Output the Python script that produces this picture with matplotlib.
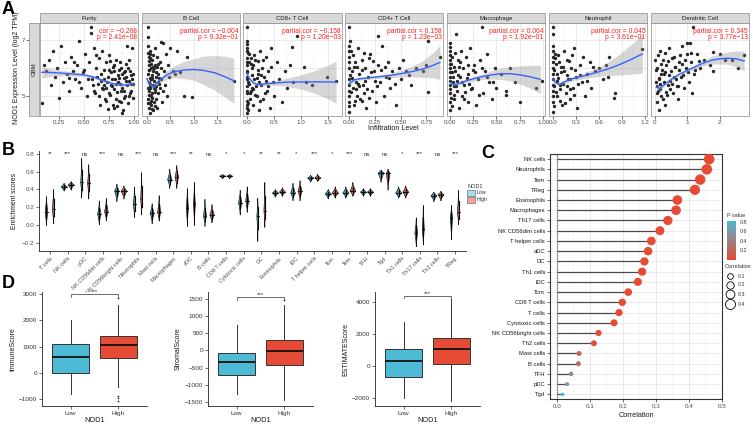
import numpy as np
import matplotlib
matplotlib.use("Agg")
import matplotlib.pyplot as plt
from matplotlib.patches import Rectangle, Polygon
from matplotlib.colors import LinearSegmentedColormap

plt.rcParams['font.family'] = ['Liberation Sans', 'DejaVu Sans']

# ------------------------------------------------------------------ data A
A_names = ["Purity", "B Cell", "CD8+ T Cell", "CD4+ T Cell", "Macrophage", "Neutrophil", "Dendritic Cell"]
A_cor = ["cor = \u22120.268", "partial.cor = \u22120.004", "partial.cor = \u22120.158", "partial.cor = 0.158",
         "partial.cor = 0.064", "partial.cor = 0.045", "partial.cor = 0.345"]
A_p = ["p = 2.41e\u221208", "p = 9.32e\u221201", "p = 1.20e\u221203", "p = 1.23e\u221203",
       "p = 1.92e\u221201", "p = 3.61e\u221201", "p = 3.77e\u221213"]

purity_x = [0.08,0.10,0.12,0.15,0.17,0.19,0.21,0.23,0.25,0.27,0.29,0.31,0.33,0.35,0.37,0.39,0.41,0.43,0.45,0.47,
            0.49,0.51,0.53,0.55,0.57,0.57,0.58,0.60,0.61,0.62,0.64,0.65,0.66,0.67,0.68,0.69,0.70,0.71,0.72,0.73,
            0.74,0.75,0.76,0.77,0.78,0.79,0.80,0.81,0.82,0.83,0.84,0.85,0.86,0.87,0.88,0.89,0.90,0.91,0.92,0.93,
            0.94,0.95,0.96,0.97,0.98,0.99,0.985,0.93,0.88,0.74,
            0.72,0.75,0.78,0.8,0.82,0.84,0.86,0.88,0.9,0.92,0.94,0.96,0.98,0.7,0.76,0.8,0.85,0.9,0.95,0.99,
            0.83,0.87,0.91,0.97,0.79,0.68,0.63,0.59,0.54]
purity_y = [4.75,6.1,5.9,6.3,5.4,6.6,5.7,6.0,4.95,6.8,5.5,6.2,5.8,5.2,6.4,5.9,5.6,6.1,6.95,5.3,
            5.85,6.5,5.0,6.2,7.45,7.25,5.6,6.7,5.1,6.0,5.45,6.35,4.7,5.8,6.6,5.25,5.95,4.9,6.2,5.5,
            5.7,6.45,5.05,5.85,5.35,6.05,4.6,5.6,6.3,5.15,5.75,4.85,5.45,6.0,5.3,4.5,5.65,5.0,6.15,5.4,
            4.75,5.55,5.9,5.2,6.7,5.45,4.95,6.8,4.4,4.55,
            5.3,5.1,5.6,5.9,4.9,5.5,6.2,5.8,5.2,5.7,6.0,5.1,5.6,5.6,6.25,5.25,5.95,4.95,6.3,5.8,
            4.65,4.8,5.9,5.45,4.7,5.3,5.7,5.4,5.6]
purity_x2 = [0.6,0.65,0.7,0.75,0.8,0.85,0.9,0.95,0.62,0.67,0.72,0.77,0.82,0.87,0.92,0.97,0.45,0.5,0.35,0.4]
purity_y2 = [5.2,5.0,5.4,5.95,6.1,5.65,5.85,5.0,6.45,5.55,4.85,5.4,5.45,5.2,5.55,5.75,5.5,5.95,5.65,6.2]

bcell_x = [0.02,0.02,0.03,0.04,0.05,0.03,0.04,0.05,0.03,0.04,0.06, 0.08,0.09,0.10,0.08,0.10,0.09,
           0.12,0.13,0.14,0.12,0.15,0.13, 0.17,0.18,0.19,0.17,0.20, 0.22,0.24,0.23,0.25,0.22,
           0.28,0.30,0.29,0.32, 0.35,0.37,0.38,0.40,0.42,0.45,0.47,
           0.50,0.55,0.60,0.65,0.70,0.80,0.85,0.96,1.85,0.30,
           0.06,0.07,0.11,0.16,0.21,0.26,0.05,0.09,0.14,0.18]
bcell_y = [7.45,7.1,6.8,6.4,6.1,5.8,5.5,5.2,4.9,4.6,4.4, 6.6,6.0,5.6,5.3,5.0,4.7,
           6.3,5.9,5.4,5.1,4.8,4.5, 6.7,6.1,5.7,5.25,4.9, 6.4,5.8,5.5,5.1,4.6,
           6.2,5.6,5.3,4.8, 6.9,5.9,5.4,6.5,5.0,6.1,5.7,
           6.7,5.9,5.8,6.6,5.85,5.0,6.4,4.96,5.55,6.93,
           5.65,5.35,5.75,5.55,6.05,5.45,6.25,4.85,6.05,5.15]
bcell_x2 = [0.03,0.04,0.05,0.06,0.07,0.08,0.1,0.11,0.12,0.13,0.15,0.16,0.18,0.19,0.2,0.23,0.27,0.31,0.34,
            0.02,0.03,0.05,0.07,0.09,0.11]
bcell_y2 = [6.55,5.95,5.05,6.35,4.75,5.45,6.15,4.95,5.65,6.45,5.3,6.0,4.65,5.85,5.35,6.15,5.65,6.0,5.2,
            5.3,4.75,5.95,6.5,5.6,4.55]

cd8_x = [0,0,0,0,0,0,0,0,0,0,0,0,
         0.05,0.08,0.10,0.12,0.14,0.16,0.18,0.20,0.22,0.24,0.26,0.28,0.30,0.32,0.35,0.37,0.40,0.42,0.45,0.48,
         0.50,0.55,0.60,0.65,0.70,0.75,0.80,0.85,0.93,1.05,1.10,1.20,1.48,1.65,0.83,
         0.02,0.04,0.06,0.09,0.13,0.17,0.21,0.03,0.07,0.11]
cd8_y = [7.45,6.85,6.6,6.35,6.1,5.85,5.6,5.35,5.1,4.85,4.6,4.4,
         6.5,5.2,6.0,4.7,5.6,6.3,5.0,5.8,4.5,6.6,5.4,6.0,4.9,5.7,6.4,5.2,5.9,4.6,6.7,5.5,
         5.0,6.2,5.6,4.8,5.9,5.3,6.1,5.5,7.15,6.05,5.5,5.4,5.7,5.55,6.75,
         5.5,6.2,5.1,5.75,6.45,5.35,5.95,4.75,6.15,5.25]
cd8_x2 = [0,0,0,0,0,0,0.01,0.02,0.03,0.05,0.06,0.08,0.1,0.12,0.15,0.18,0.2,0.23,0.25,0.27,0.3,0.33,0.36,0.4,0.44]
cd8_y2 = [6.95,6.7,6.2,5.7,5.2,4.7,5.9,4.5,6.55,5.45,4.9,6.35,5.3,6.1,5.05,5.65,6.25,5.5,4.85,5.75,
          6.3,5.1,5.55,5.35,6.05]

cd4_x = [0,0,0,0,0,0,0,0,
         0.02,0.03,0.04,0.05,0.06,0.07,0.08,0.09,0.10,0.11,0.12,0.13,0.14,0.15,0.16,0.18,0.20,0.22,0.24,0.26,
         0.28,0.30,0.32,0.34,0.36,0.38,0.40,0.42,0.45,0.48,0.50,0.55,0.60,0.65,0.72,0.75,0.76,0.76,0.88,0.28,
         0.01,0.03,0.05,0.07,0.09,0.12,0.15,0.19]
cd4_y = [7.45,6.8,6.4,6.0,5.6,5.2,4.8,4.45,
         6.6,5.9,5.3,4.7,6.2,5.5,5.0,6.7,5.8,4.9,6.3,5.4,5.1,6.0,4.6,5.7,6.5,5.2,5.9,4.8,
         6.1,5.5,6.8,5.0,5.7,6.2,5.3,5.9,4.7,6.0,5.6,5.9,5.4,6.0,5.9,6.1,6.95,5.15,6.4,7.15,
         6.95,5.65,6.05,5.25,5.45,4.85,5.55,6.35]
cd4_x2 = [0,0,0,0,0,0.01,0.02,0.04,0.06,0.08,0.1,0.12,0.14,0.17,0.19,0.21,0.23,0.25,0.27,0.31,
          0.35,0.39,0.44,0.52,0.58]
cd4_y2 = [6.6,6.2,5.4,5.0,4.65,5.75,5.15,6.45,4.85,6.05,5.35,5.95,6.55,5.25,4.95,5.85,6.25,5.55,5.35,5.95,
          6.05,5.65,5.45,6.3,5.75]

macro_x = [0,0,0,0,0,0,0,0,0,
           0.02,0.03,0.04,0.07,0.06,0.08,0.09,0.10,0.11,0.12,0.13,0.14,0.15,0.17,0.19,0.20,0.22,0.24,0.26,0.28,
           0.30,0.32,0.34,0.36,0.38,0.40,0.42,0.45,0.48,0.50,0.55,0.60,0.65,0.70,0.75,0.92,0.99,0.60,
           0.01,0.02,0.05,0.08,0.1,0.16,0.21,0.25]
macro_y = [6.9,6.6,6.3,6.0,5.7,5.4,5.1,4.8,4.5,
           6.4,5.5,4.9,7.2,5.9,5.2,6.3,4.6,5.7,6.6,5.0,6.0,5.4,6.4,4.8,5.8,6.7,5.3,6.1,4.7,
           5.6,6.3,7.45,5.1,5.9,6.5,5.5,4.9,6.0,5.3,5.8,5.2,6.0,5.5,4.8,5.3,5.55,5.05,
           6.15,5.85,5.35,5.55,6.05,5.15,5.45,5.95]
macro_x2 = [0,0,0,0,0,0,0.01,0.02,0.03,0.04,0.05,0.06,0.07,0.09,0.11,0.13,0.15,0.18,0.2,0.23,
            0.27,0.31,0.35,0.4,0.46]
macro_y2 = [6.75,6.45,6.15,5.85,5.55,5.25,4.95,4.65,5.7,6.05,5.05,6.55,5.35,5.75,6.2,5.5,4.9,5.65,6.1,5.25,
            5.85,5.05,6.0,5.7,5.5]

neut_x = [0,0,0,0,0,0,0,0,0,
          0.03,0.05,0.06,0.08,0.10,0.12,0.14,0.15,0.17,0.19,0.20,0.22,0.24,0.26,0.28,0.30,0.32,0.35,0.38,0.40,
          0.42,0.45,0.48,0.50,0.55,0.60,0.65,0.70,0.72,0.74,0.81,0.80,1.17,
          0.02,0.04,0.07,0.09,0.11,0.13,0.18,0.23]
neut_y = [7.45,7.2,6.8,6.4,6.0,5.6,5.2,4.8,4.45,
          6.5,5.8,5.0,6.2,5.4,4.7,6.6,5.9,5.1,6.3,5.6,4.9,6.0,5.3,6.7,5.7,4.6,6.1,5.5,6.4,
          5.0,5.8,6.2,5.3,5.9,6.0,5.6,6.1,5.7,6.39,5.1,4.95,6.66,
          5.35,6.15,5.65,4.85,6.05,5.45,5.75,5.25]
neut_x2 = [0,0,0,0,0,0.01,0.02,0.03,0.04,0.05,0.07,0.09,0.11,0.13,0.16,0.18,0.21,0.23,0.25,0.27,
           0.29,0.33,0.36,0.44,0.52]
neut_y2 = [6.6,6.2,5.8,5.4,5.0,4.65,5.95,6.35,5.15,5.55,6.45,5.25,5.85,6.05,4.75,5.35,6.25,5.6,6.45,5.05,
           5.95,5.45,5.75,5.55,6.05]

dc_x = [0.0,0.02,0.05,0.08,0.10,0.12,0.15,0.18,0.20,0.25,0.28,0.30,0.35,0.40,0.45,0.50,0.55,0.60,0.65,0.70,
        0.75,0.80,0.85,0.90,0.95,1.00,1.05,1.10,1.15,1.20,1.30,1.08,1.40,1.17,1.50,1.70,1.80,2.00,1.78,2.15,
        2.37,2.74,2.55,0.98,
        0.05,0.12,0.22,0.33,0.42,0.52,0.62,0.72,0.82,0.3,0.48]
dc_y = [6.3,5.5,4.8,6.0,5.2,4.5,6.6,5.8,5.0,6.3,5.5,4.7,6.1,5.4,6.7,5.9,5.1,6.4,5.6,4.9,
        6.2,5.7,6.8,5.3,6.0,6.5,5.5,6.2,5.1,5.8,6.5,6.88,6.0,7.46,6.3,6.1,5.9,6.5,6.57,6.3,
        6.29,6.45,6.0,6.89,
        5.35,5.65,5.95,5.15,5.75,5.45,6.05,5.35,6.15,5.85,5.25]
dc_x2 = [0.03,0.07,0.1,0.13,0.17,0.2,0.24,0.27,0.32,0.37,0.41,0.46,0.53,0.58,0.63,0.68,0.74,0.78,0.88,0.93,
         1.03,1.12,1.25,1.35,0.15]
dc_y2 = [5.95,5.1,6.45,5.6,5.25,6.15,4.9,5.8,6.55,5.05,6.25,5.55,6.35,5.7,6.05,5.35,5.95,6.45,5.75,6.3,
         5.85,6.55,5.95,6.25,5.45]

# loess fits (x, fitted y, half width of CI)
purity_fx = [0.08,0.2,0.35,0.5,0.6,0.7,0.8,0.9,1.0]
purity_fy = [5.85,5.84,5.8,5.76,5.68,5.55,5.44,5.4,5.45]
purity_fs = [0.2,0.12,0.08,0.06,0.05,0.05,0.04,0.05,0.07]
bcell_fx = [0.0,0.06,0.13,0.2,0.3,0.45,0.6,0.8,1.0,1.2,1.45,1.65,1.85]
bcell_fy = [5.62,5.45,5.33,5.45,5.6,5.78,5.88,5.93,5.95,5.92,5.83,5.7,5.55]
bcell_fs = [0.12,0.06,0.07,0.07,0.1,0.15,0.22,0.3,0.38,0.5,0.62,0.72,0.8]
cd8_fx = [0,0.05,0.12,0.2,0.35,0.5,0.75,1.0,1.25,1.5,1.65]
cd8_fy = [5.82,5.62,5.48,5.42,5.44,5.47,5.5,5.51,5.51,5.51,5.5]
cd8_fs = [0.08,0.06,0.05,0.05,0.06,0.08,0.15,0.25,0.4,0.6,0.75]
cd4_fx = [0,0.05,0.1,0.2,0.3,0.4,0.5,0.6,0.7,0.8,0.88]
cd4_fy = [5.45,5.58,5.62,5.66,5.7,5.74,5.8,5.87,5.95,6.08,6.2]
cd4_fs = [0.1,0.06,0.05,0.05,0.06,0.08,0.12,0.18,0.28,0.42,0.6]
macro_fx = [0,0.03,0.07,0.15,0.25,0.35,0.45,0.55,0.65,0.75,0.85,0.97]
macro_fy = [5.5,5.43,5.42,5.52,5.62,5.7,5.76,5.8,5.8,5.76,5.7,5.6]
macro_fs = [0.08,0.05,0.05,0.06,0.08,0.1,0.15,0.2,0.25,0.32,0.4,0.5]
neut_fx = [0,0.04,0.08,0.14,0.25,0.4,0.55,0.7,0.85,1.0,1.17]
neut_fy = [5.62,5.48,5.42,5.5,5.62,5.72,5.83,5.95,6.1,6.28,6.5]
neut_fs = [0.1,0.06,0.05,0.06,0.07,0.1,0.14,0.22,0.35,0.5,0.68]
dc_fx = [0.05,0.15,0.3,0.5,0.75,1.0,1.25,1.5,1.75,2.0,2.25,2.5,2.75]
dc_fy = [5.32,5.28,5.42,5.6,5.78,5.92,6.05,6.18,6.28,6.33,6.35,6.33,6.25]
dc_fs = [0.12,0.08,0.06,0.05,0.05,0.06,0.08,0.1,0.14,0.18,0.22,0.28,0.35]

# ------------------------------------------------------------------ data B
B_cells = ["T cells", "NK cells", "pDC", "NK CD56dim cells", "NK CD56bright cells", "Neutrophils", "Mast cells",
           "Macrophages", "aDC", "B cells", "CD8 T cells", "Cytotoxic cells", "DC", "Eosinophils", "iDC",
           "T helper cells", "Tcm", "Tem", "TFH", "Tgd", "Th1 cells", "Th17 cells", "Th2 cells", "TReg"]
B_sig = ["**", "***", "ns", "***", "ns", "***", "ns", "***", "**", "ns", "*", "*", "**", "**", "*", "***",
         "*", "***", "ns", "ns", "*", "***", "ns", "***"]
low_min = [-0.01,0.38,0.30,0.00,0.26,0.08,0.01,0.41,-0.02,-0.02,0.52,0.11,-0.19,0.31,0.27,0.48,0.29,0.30,0.32,0.48,0.30,-0.25,0.26,-0.17]
low_med = [0.14,0.43,0.48,0.12,0.38,0.23,0.13,0.51,0.19,0.10,0.55,0.25,0.10,0.36,0.36,0.53,0.35,0.36,0.37,0.585,0.36,-0.09,0.33,0.08]
low_max = [0.32,0.47,0.75,0.27,0.46,0.43,0.24,0.63,0.41,0.29,0.57,0.39,0.30,0.40,0.47,0.56,0.40,0.43,0.41,0.62,0.43,0.08,0.37,0.22]
high_min = [0.01,0.39,0.29,0.04,0.29,0.11,0.04,0.41,-0.01,0.02,0.52,0.14,-0.03,0.32,0.27,0.49,0.30,0.32,0.32,0.39,0.30,-0.23,0.27,0.00]
high_med = [0.18,0.45,0.47,0.15,0.38,0.29,0.14,0.54,0.23,0.11,0.55,0.27,0.16,0.37,0.38,0.53,0.36,0.38,0.37,0.58,0.37,-0.05,0.34,0.14]
high_max = [0.40,0.49,0.68,0.30,0.44,0.59,0.33,0.67,0.48,0.23,0.57,0.43,0.48,0.42,0.50,0.57,0.43,0.48,0.41,0.63,0.44,0.22,0.38,0.39]

# ------------------------------------------------------------------ data C
C_cells = ["NK cells", "Neutrophils", "Tem", "TReg", "Eosinophils", "Macrophages", "Th17 cells", "NK CD56dim cells",
           "T helper cells", "aDC", "DC", "Th1 cells", "iDC", "Tcm", "CD8 T cells", "T cells", "Cytotoxic cells",
           "NK CD56bright cells", "Th2 cells", "Mast cells", "B cells", "TFH", "pDC", "Tgd"]
C_cor = [0.461,0.454,0.434,0.418,0.365,0.361,0.336,0.312,0.286,0.276,0.265,0.258,0.245,0.216,0.198,0.188,
         0.173,0.126,0.112,0.067,0.065,0.043,0.031,0.017]
C_p = [0,0,0,0,0,0,0,0,0,0,0,0,0,0,0,0,0,0.005,0.01,0.19,0.2,0.45,0.62,0.82]

# ------------------------------------------------------------------ data D
D_ylabels = ["ImmuneScore", "StromalScore", "ESTIMATEScore"]
D_groups = ["Low", "High"]
# [whislo, q1, median, q3, whishi]
immune_low = [-830, 0, 600, 1100, 2030]
immune_high = [-560, 580, 1060, 1400, 2580]
immune_high_out = [2870, -880, -960, -1080]
stromal_low = [-1280, -700, -340, -70, 740]
stromal_high = [-1450, -430, -20, 300, 1320]
stromal_high_out = [1480]
estimate_low = [-2040, -690, 310, 1020, 2750]
estimate_high = [-2190, 100, 1050, 1710, 4150]
estimate_high_out = []

# ------------------------------------------------------------------ figure
W, H = 753, 425
fig = plt.figure(figsize=(W / 100, H / 100), dpi=100)


def ax_px(x0, y0, x1, y1, **kw):
    return fig.add_axes([x0 / W, 1 - y1 / H, (x1 - x0) / W, (y1 - y0) / H], **kw)


def ftext(x, y, s, **kw):
    return fig.text(x / W, 1 - y / H, s, **kw)


def frect(x0, y0, x1, y1, **kw):
    r = Rectangle((x0 / W, 1 - y1 / H), (x1 - x0) / W, (y1 - y0) / H, transform=fig.transFigure, **kw)
    fig.add_artist(r)


# ------------------------------------------------------------------ panel A
A_bounds = [(40, 138), (142, 240), (243, 342), (345, 443), (447, 545), (549, 647), (651, 749)]
A_xlims = [(0.06, 1.04), (-0.1, 1.98), (-0.07, 1.76), (-0.04, 0.91), (-0.03, 1.02), (-0.05, 1.23), (-0.12, 2.9)]
A_xticks = [[0.25, 0.5, 0.75, 1.0], [0, 0.5, 1.0, 1.5], [0, 0.5, 1.0, 1.5], [0, 0.25, 0.5, 0.75],
            [0, 0.25, 0.5, 0.75, 1.0], [0, 0.3, 0.6, 0.9, 1.2], [0, 1, 2]]
A_xtl = [["0.25", "0.50", "0.75", "1.00"], ["0.0", "0.5", "1.0", "1.5"], ["0.0", "0.5", "1.0", "1.5"],
         ["0.00", "0.25", "0.50", "0.75"], ["0.00", "0.25", "0.50", "0.75", "1.00"],
         ["0.0", "0.3", "0.6", "0.9", "1.2"], ["0", "1", "2"]]
scat = [(purity_x + purity_x2, purity_y + purity_y2), (bcell_x + bcell_x2, bcell_y + bcell_y2),
        (cd8_x + cd8_x2, cd8_y + cd8_y2), (cd4_x + cd4_x2, cd4_y + cd4_y2),
        (macro_x + macro_x2, macro_y + macro_y2), (neut_x + neut_x2, neut_y + neut_y2),
        (dc_x + dc_x2, dc_y + dc_y2)]
fits = [(purity_fx, purity_fy, purity_fs), (bcell_fx, bcell_fy, bcell_fs), (cd8_fx, cd8_fy, cd8_fs),
        (cd4_fx, cd4_fy, cd4_fs), (macro_fx, macro_fy, macro_fs), (neut_fx, neut_fy, neut_fs),
        (dc_fx, dc_fy, dc_fs)]
AY = (4.3, 7.6)
for i in range(7):
    x0, x1 = A_bounds[i]
    ax = ax_px(x0, 23, x1, 116)
    ax.set_xlim(*A_xlims[i])
    ax.set_ylim(*AY)
    xt = A_xticks[i]
    mids = [(a + b) / 2 for a, b in zip(xt[:-1], xt[1:])]
    step = xt[1] - xt[0]
    extra = [xt[0] - step / 2, xt[-1] + step / 2]
    for m in mids + extra:
        ax.axvline(m, color="#F2F2F2", lw=0.35, zorder=0)
    for m in xt:
        ax.axvline(m, color="#E5E5E5", lw=0.55, zorder=0)
    for m in [4.5, 5.5, 6.5, 7.5]:
        ax.axhline(m, color="#F2F2F2", lw=0.35, zorder=0)
    for m in [5, 6, 7]:
        ax.axhline(m, color="#E5E5E5", lw=0.55, zorder=0)
    sx, sy = scat[i]
    n = min(len(sx), len(sy))
    ax.scatter(sx[:n], sy[:n], s=6, c="#262626", lw=0, zorder=2)
    fx, fy, fs = (np.array(v, dtype=float) for v in fits[i])
    ax.fill_between(fx, fy - fs, fy + fs, color="#999999", alpha=0.4, lw=0, zorder=3)
    ax.plot(fx, fy, color="#3366FF", lw=1.0, zorder=4)
    ax.set_xticks(xt)
    ax.set_xticklabels(A_xtl[i])
    ax.set_yticks([])
    ax.tick_params(axis='x', length=2, width=0.5, labelsize=4.5, pad=1, colors="#333333", labelcolor="#4d4d4d")
    for s in ax.spines.values():
        s.set_color("#8c8c8c")
        s.set_linewidth(0.5)
    ax.text(0.985, 0.95, A_cor[i] + "\n" + A_p[i], transform=ax.transAxes, ha='right', va='top',
            color="#FF2020", fontsize=4.9, linespacing=0.95, zorder=6)
    frect(x0, 13, x1, 23, facecolor="#D9D9D9", edgecolor="#8c8c8c", lw=0.5)
    ftext((x0 + x1) / 2, 18.3, A_names[i], ha='center', va='center', fontsize=4.3, color="#1a1a1a")

sax = ax_px(29, 23, 39, 116)
sax.set_facecolor("#D9D9D9")
sax.set_xlim(0, 1)
sax.set_ylim(*AY)
sax.set_xticks([])
sax.set_yticks([5, 7])
sax.set_yticklabels(["5", "7"])
sax.tick_params(axis='y', length=2, width=0.5, labelsize=4.5, pad=1, colors="#333333", labelcolor="#4d4d4d")
for s in sax.spines.values():
    s.set_color("#8c8c8c")
    s.set_linewidth(0.5)
sax.text(0.5, 0.5, "GBM", rotation=90, ha='center', va='center', fontsize=4.3, color="#1a1a1a",
         transform=sax.transAxes)
ftext(17, 68, "NOD1 Expression Level (log2 TPM)", rotation=90, ha='center', va='center', fontsize=5.0, color="#1a1a1a")
ftext(393, 128, "Infiltration Level", ha='center', va='center', fontsize=5.2, color="#1a1a1a")
ftext(2, 9, "A", fontsize=13, fontweight='bold', va='center', ha='left')

# ------------------------------------------------------------------ panel B
LOWC, HIGHC = "#4a97a8", "#b8675f"


def violin(ax, xc, lo, med, hi, color):
    rng = max(hi - lo, 0.02)
    hw = min(0.17, 0.026 / rng)
    t = np.linspace(-1, 1, 61)
    ys = np.where(t < 0, med + t * (med - lo), med + t * (hi - med))
    w = hw * (1 - np.abs(t)) ** 1.6
    xs = np.concatenate([xc - w, (xc + w)[::-1]])
    yy = np.concatenate([ys, ys[::-1]])
    ax.add_patch(Polygon(np.column_stack([xs, yy]), closed=True, facecolor=color, edgecolor="#111111",
                         lw=0.45, zorder=2))
    ax.plot([xc, xc], [med - 0.5 * (med - lo), med + 0.5 * (hi - med)], color="#000000", lw=0.8, zorder=3)
    ax.plot([xc - hw * 0.85, xc + hw * 0.85], [med, med], color="#000000", lw=0.6, zorder=3)


axB = ax_px(39, 151, 466, 251)
nB = len(B_cells)
posB = np.arange(1, nB + 1)
for i in range(nB):
    violin(axB, posB[i] - 0.2, low_min[i], low_med[i], low_max[i], LOWC)
    violin(axB, posB[i] + 0.2, high_min[i], high_med[i], high_max[i], HIGHC)
    axB.text(posB[i], 0.8, B_sig[i], ha='center', va='center', fontsize=4.3, color="#333333")
axB.set_xlim(0.375, 24.625)
axB.set_ylim(-0.296, 0.834)
axB.set_xticks(posB)
axB.set_xticklabels(B_cells, rotation=45, ha='right', rotation_mode='anchor')
axB.set_yticks([-0.2, 0.0, 0.2, 0.4, 0.6, 0.8])
axB.tick_params(length=2, width=0.5, labelsize=4.0, pad=1.5, colors="#333333", labelcolor="#4d4d4d")
axB.tick_params(axis='y', labelsize=4.5)
axB.spines['top'].set_visible(False)
axB.spines['right'].set_visible(False)
for s in ['left', 'bottom']:
    axB.spines[s].set_linewidth(0.6)
    axB.spines[s].set_color("#222222")
axB.set_ylabel("Enrichment scores", fontsize=4.9, labelpad=3, color="#1a1a1a")
ftext(2, 150, "B", fontsize=13, fontweight='bold', va='center', ha='left')
ftext(467, 186, "NOD1", fontsize=4.0, color="#333333", va='center')
frect(467, 190, 475, 196, facecolor="#a8dce9", edgecolor="#555555", lw=0.4)
frect(467, 197, 475, 203, facecolor="#f3a59d", edgecolor="#555555", lw=0.4)
ftext(477, 193, "Low", fontsize=3.8, color="#333333", va='center')
ftext(477, 200, "High", fontsize=3.8, color="#333333", va='center')

# ------------------------------------------------------------------ panel C
cmapC = LinearSegmentedColormap.from_list("pv", ["#E64B35", "#4DBBD5"])
PMAX = 0.82
axC = ax_px(550, 154, 722, 399)
nC = len(C_cells)
yC = np.arange(nC, 0, -1)
axC.set_xlim(-0.021, 0.5)
axC.set_ylim(0.55, 24.5)
for m in [0.05, 0.15, 0.25, 0.35, 0.45]:
    axC.axvline(m, color="#F2F2F2", lw=0.4, zorder=0)
for m in [0.1, 0.2, 0.3, 0.4, 0.5]:
    axC.axvline(m, color="#E5E5E5", lw=0.6, zorder=0)
for yy in yC:
    axC.axhline(yy, color="#E8E8E8", lw=0.6, zorder=0)
axC.axvline(0, color="#9a9a9a", lw=0.9, zorder=1)
axC.hlines(yC, 0, C_cor, color="#4a4a4a", lw=0.9, zorder=2)
axC.scatter(C_cor, yC, s=5 + 118 * np.array(C_cor), c=cmapC(np.array(C_p) / PMAX), lw=0, zorder=3)
axC.set_yticks(yC)
axC.set_yticklabels(C_cells)
axC.set_xticks([0, 0.1, 0.2, 0.3, 0.4, 0.5])
axC.set_xticklabels(["0.0", "0.1", "0.2", "0.3", "0.4", "0.5"])
axC.tick_params(axis='y', length=2, width=0.5, labelsize=4.2, pad=1.5, colors="#333333", labelcolor="#1a1a1a")
axC.tick_params(axis='x', length=2, width=0.5, labelsize=4.5, pad=1.5, colors="#333333", labelcolor="#4d4d4d")
for s in axC.spines.values():
    s.set_color("#333333")
    s.set_linewidth(0.8)
axC.set_xlabel("Correlation", fontsize=5.3, labelpad=2, color="#1a1a1a")
ftext(481, 153, "C", fontsize=13, fontweight='bold', va='center', ha='left')

cbax = ax_px(727, 221, 736, 260)
grad = np.linspace(0, PMAX, 100).reshape(-1, 1)
cbax.imshow(grad, aspect='auto', cmap=cmapC, origin='lower', extent=[0, 1, 0, PMAX], vmin=0, vmax=PMAX)
cbax.set_xticks([])
cbax.yaxis.tick_right()
cbax.set_yticks([0.2, 0.4, 0.6, 0.8])
cbax.set_yticklabels(["0.2", "0.4", "0.6", "0.8"])
cbax.tick_params(axis='y', length=1.5, width=0.4, labelsize=3.8, pad=1, colors="white", labelcolor="#333333")
for s in cbax.spines.values():
    s.set_visible(False)
ftext(727, 216, "P value", fontsize=4.0, color="#333333", va='center')
ftext(725, 267, "Correlation", fontsize=3.9, color="#333333", va='center')
lax = ax_px(724, 271, 753, 310)
lax.set_xlim(0, 29)
lax.set_ylim(39, 0)
lax.axis('off')
leg_vals = [0.1, 0.2, 0.3, 0.4]
leg_y = [5, 14, 23, 33]
for v, yy in zip(leg_vals, leg_y):
    lax.scatter([6], [yy], s=5 + 118 * v, facecolor='white', edgecolor='black', lw=0.6)
    lax.text(14, yy, "%.1f" % v, fontsize=3.8, va='center', ha='left', color="#333333")

# ------------------------------------------------------------------ panel D
D_axes = [(42, 147), (208, 313), (375, 480)]
D_ylims = [(-1270, 3080), (-1616, 1703), (-2520, 4600)]
D_yticks = [[-1000, 0, 1000, 2000, 3000], [-1500, -1000, -500, 0, 500, 1000, 1500], [-2000, 0, 2000, 4000]]
D_stats = [(immune_low, immune_high, immune_high_out), (stromal_low, stromal_high, stromal_high_out),
           (estimate_low, estimate_high, estimate_high_out)]
D_brk = [(2880, 3000), (1480, 1560), (4200, 4350)]
for k in range(3):
    x0, x1 = D_axes[k]
    ax = ax_px(x0, 292, x1, 406)
    lo, hi, out = D_stats[k]
    st = []
    for s_, fl in ((lo, []), (hi, out)):
        st.append(dict(whislo=s_[0], q1=s_[1], med=s_[2], q3=s_[3], whishi=s_[4], fliers=fl))
    bp = ax.bxp(st, positions=[1, 2], widths=0.77, patch_artist=True, showcaps=False,
                boxprops=dict(edgecolor="#333333", lw=0.7),
                medianprops=dict(color="#111111", lw=1.3),
                whiskerprops=dict(color="#333333", lw=0.7),
                flierprops=dict(marker='o', markersize=1.3, markerfacecolor="#333333",
                                markeredgecolor="none"))
    bp['boxes'][0].set_facecolor("#4DBBD5")
    bp['boxes'][1].set_facecolor("#E64B35")
    ax.set_xlim(0.4, 2.6)
    ax.set_ylim(*D_ylims[k])
    ax.set_yticks(D_yticks[k])
    ax.set_xticks([1, 2])
    ax.set_xticklabels(D_groups)
    ax.tick_params(length=2, width=0.5, labelsize=4.6, pad=1.5, colors="#333333", labelcolor="#333333")
    ax.spines['top'].set_visible(False)
    ax.spines['right'].set_visible(False)
    for s in ['left', 'bottom']:
        ax.spines[s].set_linewidth(0.6)
        ax.spines[s].set_color("#222222")
    b0, b1 = D_brk[k]
    ax.plot([1, 1, 2, 2], [b0, b1, b1, b0], color="#333333", lw=0.5)
    ax.text(1.5, b1, "***", ha='center', va='bottom', fontsize=4.3, color="#333333")
    ax.set_ylabel(D_ylabels[k], fontsize=5.0, labelpad=2, color="#1a1a1a")
    ax.set_xlabel("NOD1", fontsize=5.3, labelpad=1, color="#1a1a1a")
ftext(2, 283, "D", fontsize=13, fontweight='bold', va='center', ha='left')

fig.savefig("out.png", dpi=100)
